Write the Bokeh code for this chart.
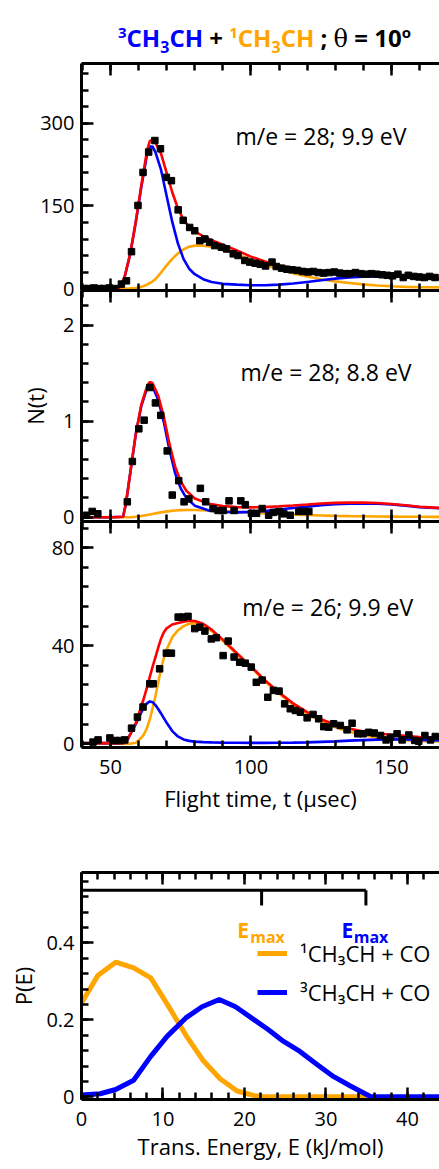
from bokeh.plotting import figure
from bokeh.models import (Div, SingleIntervalTicker, LinearAxis, Range1d,
                          Legend, LegendItem, Title)
from bokeh.layouts import column
from bokeh.embed import file_html
from bokeh.resources import INLINE
from bokeh.core.properties import value

# ---------------- data ----------------
# Panel 1: m/e = 28 ; 9.9 eV  (data points)
tof1_t = [40.5, 42.3, 44.1, 46.0, 47.8, 49.6, 51.4, 53.9, 55.7, 57.5, 59.8, 61.6,
          63.6, 65.8, 67.8, 69.9, 71.7, 74.1, 75.9, 78.2, 80.0, 81.8, 83.6, 85.3,
          87.1, 89.5, 91.3, 93.7, 95.4, 97.8, 99.6, 101.5, 103.3, 105.2, 107.5,
          109.0, 110.9, 112.8, 114.6, 116.5, 118.4, 120.3, 122.2, 124.0, 125.9,
          127.8, 129.7, 131.6, 133.5, 135.3, 137.2, 139.1, 141.0, 142.9, 144.7,
          146.6, 148.5, 150.4, 152.3, 154.2, 156.0, 157.9, 159.8, 161.7, 163.6, 165.5]
tof1_n = [0, 0, 1, 0, 0, 1, 0, 8, 14, 67, 151, 211,
          248, 269, 254, 202, 196, 143, 124, 111, 105, 87, 90, 84,
          78, 75, 72, 63, 60, 51, 48, 46, 44, 41, 48,
          40, 37, 35, 34, 33, 31, 30, 31, 29, 28,
          29, 30, 28, 27, 27, 29, 27, 26, 27, 26,
          25, 24, 23, 26, 20, 24, 22, 21, 20, 22, 20]
fit1_t = [38, 50, 53, 55, 57, 59, 61, 63, 64, 65, 66, 68, 70, 72, 74, 76, 78, 80,
          83, 86, 90, 95, 100, 105, 110, 115, 120, 125, 130, 135, 140, 145, 150,
          155, 160, 170]
fit1_triplet = [0, 0, 0.5, 20, 62, 120, 185, 243, 258, 258, 248, 216, 168, 121, 82,
                54, 36, 26, 17, 12, 8.5, 7, 6, 6, 7, 9, 12, 15, 18, 20, 21.5, 22, 22,
                21, 19, 16]
fit1_singlet = [0, 0, 0, 0, 0.3, 1, 3, 7, 10, 13, 17, 29, 42, 54, 64, 71, 76, 78,
                78, 76, 71, 62, 52, 43, 35, 28, 22, 17, 13, 10, 7.5, 5.5, 4, 3, 2.5, 1.8]
fit1_total = [0, 0, 0.5, 20, 62.3, 121, 188, 250, 268, 271, 265, 245, 210, 175, 146,
              125, 112, 104, 95, 88, 79.5, 69, 58, 49, 42, 37, 34, 32, 31, 30, 29,
              27.5, 26, 24, 21.5, 18]

# Panel 2: m/e = 28 ; 8.8 eV
tof2_t = [41.5, 43.5, 45.5, 56.0, 57.8, 60.1, 62.0, 64.0, 66.0, 67.9, 70.2, 72.0,
          74.3, 76.2, 77.9, 82.0, 83.9, 86.5, 88.3, 90.1, 92.2, 94.0, 96.4, 98.0,
          100.2, 102.0, 104.0, 106.3, 108.0, 110.0, 111.7, 114.0, 117.0, 118.8, 120.6]
tof2_n = [0.02, 0.06, 0.035, 0.16, 0.58, 0.92, 1.01, 1.35, 1.19, 1.06, 0.69, 0.23,
          0.38, 0.16, 0.19, 0.30, 0.16, 0.09, 0.07, 0.07, 0.17, 0.07, 0.17, 0.13,
          0.04, 0.04, 0.09, 0.02, 0.05, 0.06, 0.035, 0.02, 0.06, 0.06, 0.06]
fit2_t = [38, 50, 54.5, 55.5, 57, 59, 61, 63, 64, 65, 67, 69, 71, 73, 75, 77, 80,
          85, 90, 95, 100, 105, 110, 115, 120, 125, 130, 135, 140, 145, 150, 155,
          160, 170]
fit2_triplet = [0, 0, 0.005, 0.14, 0.45, 0.86, 1.16, 1.34, 1.38, 1.36, 1.22, 0.99,
                0.70, 0.46, 0.30, 0.20, 0.12, 0.07, 0.055, 0.05, 0.055, 0.065, 0.08,
                0.095, 0.11, 0.125, 0.135, 0.14, 0.142, 0.14, 0.132, 0.12, 0.105, 0.088]
fit2_singlet = [0, 0, 0, 0, 0, 0.005, 0.012, 0.022, 0.028, 0.034, 0.045, 0.055,
                0.063, 0.069, 0.073, 0.075, 0.075, 0.07, 0.062, 0.055, 0.047, 0.04,
                0.033, 0.027, 0.022, 0.018, 0.014, 0.011, 0.009, 0.007, 0.006, 0.005,
                0.004, 0.003]
fit2_total = [0, 0, 0.005, 0.14, 0.45, 0.865, 1.172, 1.362, 1.408, 1.394, 1.265,
              1.045, 0.763, 0.529, 0.373, 0.275, 0.195, 0.14, 0.117, 0.105, 0.102,
              0.105, 0.113, 0.122, 0.132, 0.143, 0.149, 0.151, 0.151, 0.147, 0.138,
              0.125, 0.109, 0.091]

# Panel 3: m/e = 26 ; 9.9 eV
tof3_t = [43.8, 45.6, 49.8, 51.5, 53.3, 55.1, 57.5, 59.6, 61.6, 64.0, 65.2, 67.5,
          69.9, 71.7, 74.1, 75.9, 77.6, 80.0, 81.8, 83.6, 85.9, 87.7, 90.1, 91.9,
          94.0, 96.0, 98.0, 100.1, 101.9, 104.0, 106.0, 108.0, 110.0, 112.0, 114.0,
          115.8, 117.6, 120.0, 122.1, 124.1, 125.9, 127.7, 129.4, 131.8, 134.2,
          136.0, 138.0, 139.9, 141.9, 143.9, 146.1, 148.1, 149.7, 152.0, 153.8,
          156.2, 158.3, 159.7, 161.9, 163.9, 165.6]
tof3_n = [0.7, 1.6, 2.4, 1.35, 1.35, 1.6, 6.4, 10.9, 15, 24.5, 24.5, 30.6,
          37, 37, 51.7, 51.7, 52, 47, 47.6, 46, 42.8, 43.3, 36, 41.9,
          35.4, 33.3, 32.9, 31.3, 25.1, 26, 19, 21.8, 21.5, 16.3, 14.3,
          13.6, 12.9, 10.6, 12, 10.2, 7, 6.8, 8.2, 7.5, 5.7,
          8.4, 4.1, 4.1, 4.7, 4.4, 3.4, 1.6, 2.7, 4.1, 1.6,
          3.6, 1.4, 1.1, 3.4, 1.6, 3]
fit3_t = [38, 50, 55, 56, 57, 59, 61, 62, 63, 64, 65, 66, 67, 68, 69, 70, 72, 74,
          76, 78, 80, 83, 86, 90, 95, 100, 105, 110, 115, 120, 125, 130, 135, 140,
          145, 150, 155, 160, 170]
fit3_triplet = [0.3, 0.3, 0.4, 1.5, 3.8, 8, 12.9, 15, 16.5, 17.3, 17, 15.8, 14.2,
                12.4, 10.5, 8.6, 5.2, 3, 1.8, 1.2, 0.9, 0.7, 0.6, 0.5, 0.45, 0.4,
                0.4, 0.45, 0.5, 0.6, 0.8, 1.0, 1.3, 1.5, 1.7, 1.8, 1.75, 1.6, 1.3]
fit3_singlet = [0, 0, 0, 0, 0, 0.4, 2.5, 4, 6.5, 10, 14.5, 19.5, 25, 30.5, 35, 38.5,
                43.5, 46.3, 48, 49, 49.2, 48.3, 46, 42, 36.5, 31.2, 25.5, 20.5, 16,
                12.3, 9.2, 6.8, 4.9, 3.5, 2.5, 1.9, 1.5, 1.2, 0.9]
fit3_total = [0.3, 0.3, 0.4, 1.5, 3.8, 8.4, 15.4, 19, 23, 27.3, 31.5, 35.3, 39.2,
              42.9, 45.5, 47.1, 48.7, 49.3, 49.8, 50.2, 50.1, 49, 46.6, 42.5, 36.95,
              31.6, 25.9, 20.95, 16.5, 12.9, 10, 7.8, 6.2, 5, 4.2, 3.7, 3.25, 2.8, 2.2]

# P(E) distributions
pe_singlet_E = [0, 2, 4.2, 6.4, 8.5, 10.8, 12.9, 14.9, 17, 19.1, 21.2, 22.4, 25, 30, 35]
pe_singlet_P = [0.244, 0.315, 0.35, 0.335, 0.309, 0.231, 0.157, 0.095, 0.047, 0.015,
                0.003, 0, 0, 0, 0]
pe_triplet_E = [0, 2.3, 4.2, 6.4, 8.5, 10.5, 12.8, 14.8, 16.9, 18.9, 21.2, 22.9, 24.8,
                26.8, 28.9, 30.9, 33, 35.5, 45]
pe_triplet_P = [0.005, 0.008, 0.019, 0.043, 0.105, 0.157, 0.205, 0.234, 0.253, 0.234,
                0.2, 0.175, 0.144, 0.118, 0.084, 0.053, 0.028, 0, 0]
emax_singlet = 22.1
emax_triplet = 34.9

legend_labels = ["\u00b9CH\u2083CH + CO", "\u00b3CH\u2083CH + CO"]
panel_labels = ["m/e = 28; 9.9 eV", "m/e = 28; 8.8 eV", "m/e = 26; 9.9 eV"]

# ---------------- styling ----------------
FONT = "Open Sans"
BLUE = "#0000ff"
ORANGE = "#ffa500"
RED = "#ff0000"
INK = "#000000"
W = 439
LEFT = 81
T_RANGE = (39.7, 167.1)
OVERLAP = 12


def style_axis(ax, labels):
    ax.axis_line_width = 3
    ax.axis_line_color = INK
    ax.major_tick_in = 12
    ax.major_tick_out = 0
    ax.minor_tick_in = 7
    ax.minor_tick_out = 0
    ax.major_tick_line_width = 2.5
    ax.minor_tick_line_width = 2.5
    ax.major_tick_line_color = INK
    ax.minor_tick_line_color = INK
    ax.major_label_text_font = FONT
    ax.major_label_text_color = INK
    if labels:
        ax.major_label_text_font_size = "20px"
        ax.major_label_standoff = 7
    else:
        ax.major_label_text_font_size = "0px"
        ax.major_label_standoff = 0
    ax.axis_label_text_font = FONT
    ax.axis_label_text_font_style = "normal"
    ax.axis_label_text_font_size = "22px"
    ax.axis_label_text_color = INK


def base_fig(height, xr, yr, top, bottom, shift=0):
    # panels that overlap the one above stay see-through there
    see_through = bool(shift)
    p = figure(width=W, height=height, x_range=Range1d(*xr), y_range=Range1d(*yr),
               output_backend="svg", toolbar_location=None,
               x_axis_location=None, y_axis_location=None,
               min_border_left=LEFT, min_border_right=0,
               min_border_top=top, min_border_bottom=bottom,
               outline_line_color=None,
               background_fill_color="white",
               background_fill_alpha=0.001 if see_through else 1,
               border_fill_color="white",
               border_fill_alpha=0.001 if see_through else 1)
    st = {"flex-shrink": "0"}
    if shift:
        st["margin-top"] = f"-{shift}px"
    p.styles = st
    p.grid.visible = False
    return p


def tof_panel(height, yr, yint, top, bottom, t, n, ft, tot, trip, sing,
              label, lx, ly, xlabels=False, ylabel=None, xtitle=None, shift=0):
    p = base_fig(height, T_RANGE, yr, top, bottom, shift)
    left = LinearAxis(ticker=SingleIntervalTicker(interval=yint, num_minor_ticks=5))
    style_axis(left, True)
    if ylabel:
        left.axis_label = ylabel
        left.axis_label_standoff = 10
    p.add_layout(left, "left")
    above = LinearAxis(ticker=SingleIntervalTicker(interval=50, num_minor_ticks=5))
    style_axis(above, False)
    p.add_layout(above, "above")
    below = LinearAxis(ticker=SingleIntervalTicker(interval=50, num_minor_ticks=5))
    style_axis(below, xlabels)
    if xlabels:
        below.major_label_standoff = 12
    p.add_layout(below, "below")
    if xtitle:
        p.add_layout(Title(text=xtitle, align="center", offset=8, text_font=FONT,
                           text_font_size="22px", text_font_style="normal",
                           text_color=INK, standoff=9), "below")

    p.line(ft, sing, line_color=ORANGE, line_width=2.6)
    p.line(ft, trip, line_color=BLUE, line_width=2.6)
    p.line(ft, tot, line_color=RED, line_width=2.6)
    p.scatter(t, n, marker="square", size=6.5, fill_color=INK, line_color=INK)
    p.text(x=[lx], y=[ly], text=[label], text_font=value(FONT),
           text_font_size="23px", text_baseline="alphabetic", text_color=INK)
    return p


title_html = (
    '<div style="font-family:\'Open Sans\';font-weight:700;font-size:24px;'
    'line-height:30px;white-space:nowrap;padding-left:118px;padding-top:17px;color:#000">'
    '<span style="color:#0000ff"><sup style="font-size:15px">3</sup>CH'
    '<sub style="font-size:16px">3</sub>CH</span> + '
    '<span style="color:#ffa500"><sup style="font-size:15px">1</sup>CH'
    '<sub style="font-size:16px">3</sub>CH</span> ; '
    '<span style="font-family:\'DejaVu Serif\';font-weight:400">\u03b8</span> = 10'
    '<sup style="font-size:15px">o</sup></div>'
)
title = Div(text=title_html, width=W, height=59, margin=0,
            styles={"flex-shrink": "0"})

p1 = tof_panel(4 + 227 + OVERLAP, (-3.6, 409), 150, 4, OVERLAP, tof1_t, tof1_n,
               fit1_t, fit1_total, fit1_triplet, fit1_singlet, panel_labels[0],
               94.5, 276.4)
p2 = tof_panel(231 + OVERLAP, (-0.045, 2.36), 1, 0, OVERLAP, tof2_t, tof2_n, fit2_t,
               fit2_total, fit2_triplet, fit2_singlet, panel_labels[1], 96.3, 1.51,
               ylabel="N(t)", shift=OVERLAP)
p3 = tof_panel(226 + 88, (-1.5, 90.7), 40, 0, 88, tof3_t, tof3_n, fit3_t, fit3_total,
               fit3_triplet, fit3_singlet, panel_labels[2], 96.9, 56,
               xlabels=True, xtitle="Flight time, t (\u03bcsec)", shift=OVERLAP)

# ---------------- P(E) panel ----------------
p4 = base_fig(37 + 227 + 69, (0, 43.93), (-0.007, 0.583), 37, 69)
l4 = LinearAxis(ticker=SingleIntervalTicker(interval=0.2, num_minor_ticks=5))
style_axis(l4, True)
l4.axis_label = "P(E)"
l4.axis_label_standoff = 5
p4.add_layout(l4, "left")
a4 = LinearAxis(ticker=SingleIntervalTicker(interval=10, num_minor_ticks=5))
style_axis(a4, False)
p4.add_layout(a4, "above")
b4 = LinearAxis(ticker=SingleIntervalTicker(interval=10, num_minor_ticks=5))
style_axis(b4, True)
b4.major_label_standoff = 12
p4.add_layout(b4, "below")
p4.add_layout(Title(text="Trans. Energy, E (kJ/mol)", align="center", offset=8,
                    text_font=FONT, text_font_size="22px", text_font_style="normal",
                    text_color=INK, standoff=0), "below")

r_s = p4.line(pe_singlet_E, pe_singlet_P, line_color=ORANGE, line_width=5)
r_t = p4.line(pe_triplet_E, pe_triplet_P, line_color=BLUE, line_width=5)

# E_max bracket
br_y = 0.537
br_y2 = 0.497
p4.line([0, emax_triplet], [br_y, br_y], line_color=INK, line_width=3)
p4.segment(x0=[emax_singlet, emax_triplet], y0=[br_y, br_y],
           x1=[emax_singlet, emax_triplet], y1=[br_y2, br_y2],
           line_color=INK, line_width=3)
p4.text(x=[emax_singlet - 3.0, emax_triplet - 3.0], y=[0.4345, 0.4345], text=["E", "E"],
        text_color=[ORANGE, BLUE], text_font=value(FONT), text_font_style="bold",
        text_font_size="21px", text_baseline="alphabetic")
p4.text(x=[emax_singlet - 1.4, emax_triplet - 1.5], y=[0.416, 0.416],
        text=["max", "max"], text_color=[ORANGE, BLUE], text_font=value(FONT),
        text_font_style="bold", text_font_size="16px", text_baseline="alphabetic")

legend = Legend(items=[LegendItem(label=legend_labels[0], renderers=[r_s]),
                       LegendItem(label=legend_labels[1], renderers=[r_t])],
                location=(176, 92), padding=0, margin=0, spacing=9,
                glyph_width=30, glyph_height=30, label_height=30,
                label_standoff=13, label_text_font=FONT, label_text_font_size="22px",
                label_text_color=INK, background_fill_alpha=0,
                border_line_color=None)
p4.add_layout(legend)

layout = column(title, p1, p2, p3, p4, spacing=0)
open("out.html", "w").write(file_html(layout, INLINE))
